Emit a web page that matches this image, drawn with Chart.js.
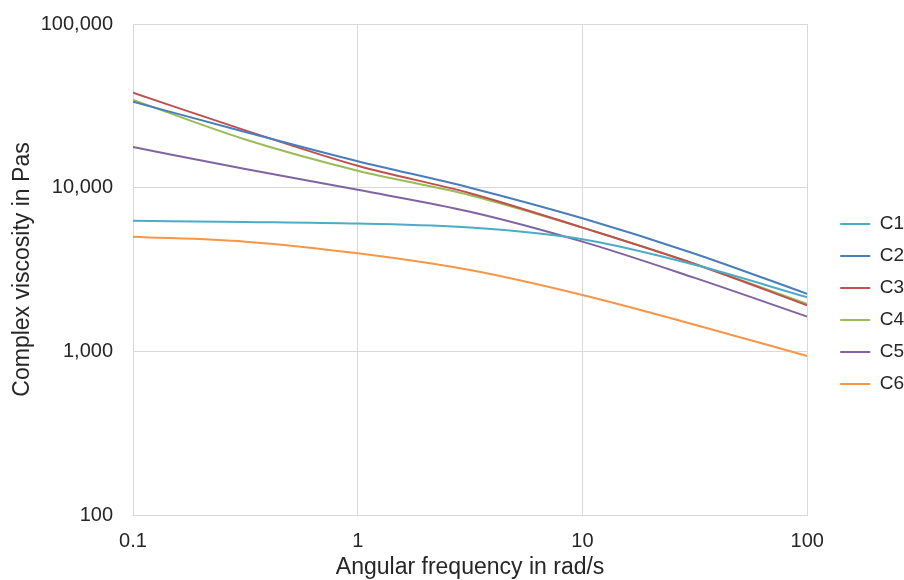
<!DOCTYPE html>
<html>
<head>
<meta charset="utf-8">
<script src="https://cdn.jsdelivr.net/npm/chart.js@4"></script>
<style>
  html, body { margin: 0; padding: 0; background: #fff; }
  #wrap { width: 904px; height: 580px; }
</style>
</head>
<body>
<div id="wrap"><canvas id="chartVisc" width="904" height="580"></canvas></div>
<script>
// ===== DATA =====
const freq = [0.1, 0.316, 1, 3.16, 10, 31.6, 100];
const c1 = [6270, 6170, 6030, 5700, 4840, 3380, 2140];
const c2 = [33500, 21900, 14500, 10000, 6500, 3950, 2245];
const c3 = [38000, 22400, 13600, 9250, 5700, 3420, 1910];
const c4 = [34400, 19700, 12700, 9000, 5700, 3420, 1950];
const c5 = [17700, 13000, 9700, 7130, 4680, 2810, 1630];
const c6 = [5020, 4680, 3975, 3140, 2210, 1455, 937];
const seriesNames = ['C1', 'C2', 'C3', 'C4', 'C5', 'C6'];
const xTicks = [0.1, 1, 10, 100];
const yTicks = [100, 1000, 10000, 100000];

const colors = ['#4BACC6', '#4A7EBB', '#C0504D', '#9BBB59', '#8064A2', '#F79646'];
const FONT = 'Liberation Sans, Arial, sans-serif';
const TXT = '#262626';

const series = [c1, c2, c3, c4, c5, c6];
const datasets = series.map((vals, i) => ({
  label: seriesNames[i],
  data: vals.map((v, j) => ({ x: freq[j], y: v })),
  borderColor: colors[i],
  backgroundColor: colors[i],
  borderWidth: 2,
  pointRadius: 0,
  cubicInterpolationMode: 'monotone',
  fill: false
}));

// move the legend a bit right/down, like the Excel original
const nudgeLegend = {
  id: 'nudgeLegend',
  afterLayout(chart) {
    const l = chart.legend;
    if (!l) return;
    l.left += 20; l.right += 20;
    l.top += 2; l.bottom += 2;
  }
};

new Chart(document.getElementById('chartVisc'), {
  type: 'line',
  data: { datasets },
  plugins: [nudgeLegend],
  options: {
    responsive: false,
    animation: false,
    layout: { padding: { top: 24, right: 10, left: 0, bottom: 0 } },
    plugins: {
      tooltip: { enabled: false },
      legend: {
        position: 'right',
        align: 'center',
        labels: {
          color: TXT,
          font: { family: FONT, size: 19 },
          usePointStyle: true,
          pointStyle: 'line',
          pointStyleWidth: 30,
          padding: 13
        }
      }
    },
    scales: {
      x: {
        type: 'logarithmic',
        min: 0.1,
        max: 100,
        afterBuildTicks: s => { s.ticks = xTicks.map(v => ({ value: v })); },
        afterFit: s => { s.height = 65; },
        ticks: {
          color: TXT,
          font: { family: FONT, size: 20 },
          padding: 14,
          maxRotation: 0,
          callback: v => String(v)
        },
        grid: { color: '#d9d9d9', drawTicks: false },
        border: { color: '#d9d9d9' },
        title: {
          display: true,
          text: 'Angular frequency in rad/s',
          color: TXT,
          font: { family: FONT, size: 23 },
          padding: { top: 0, bottom: -1 }
        }
      },
      y: {
        type: 'logarithmic',
        min: 100,
        max: 100000,
        afterBuildTicks: s => { s.ticks = yTicks.map(v => ({ value: v })); },
        afterFit: s => { s.width = 133; s.paddingTop = 0; s.paddingBottom = 0; },
        ticks: {
          color: TXT,
          font: { family: FONT, size: 20 },
          padding: 20,
          callback: v => v.toLocaleString('en-US')
        },
        grid: { color: '#d9d9d9', drawTicks: false },
        border: { color: '#d9d9d9' },
        title: {
          display: true,
          text: 'Complex viscosity in Pas',
          color: TXT,
          font: { family: FONT, size: 23 },
          padding: { top: 9, bottom: 0 }
        }
      }
    }
  }
});
</script>
</body>
</html>
